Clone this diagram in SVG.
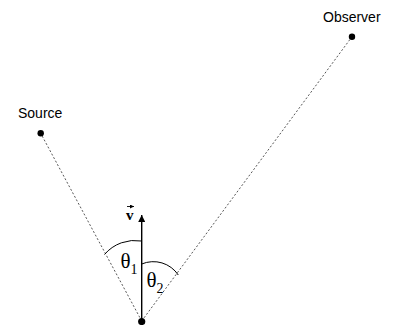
<svg xmlns="http://www.w3.org/2000/svg" width="396" height="325" viewBox="0 0 396 325">
<style>
.dot{fill:#000}
.dash{stroke:#444;stroke-width:0.9;stroke-dasharray:2 2;fill:none}
.arc{stroke:#000;stroke-width:1;fill:none}
.lbl{font-family:"Liberation Sans",Arial,sans-serif;font-size:14px;fill:#000}
.math{font-family:"Liberation Serif","Times New Roman",serif;fill:#000}
</style>
<defs>
<marker id="ah" viewBox="0 0 10 10" refX="10" refY="5" markerWidth="10" markerHeight="7" markerUnits="userSpaceOnUse" orient="auto">
<path d="M0,0 L10,5 L0,10 Z" fill="#000"/>
</marker>
<marker id="ahs" viewBox="0 0 10 10" refX="10" refY="5" markerWidth="4" markerHeight="4" markerUnits="userSpaceOnUse" orient="auto">
<path d="M0,0 L10,5 L0,10 Z" fill="#000"/>
</marker>
</defs>
<g id="connectors">
<line class="dash" x1="141.7" y1="321" x2="40.7" y2="133.3"/>
<line class="dash" x1="141.7" y1="321" x2="352" y2="36.7"/>
<line x1="141.7" y1="321" x2="141.7" y2="215" stroke="#000" stroke-width="1.4" marker-end="url(#ah)"/>
<path class="arc" d="M104.5,254.5 A40,40 0 0 1 141.7,241"/>
<path class="arc" d="M141.7,264 A30,30 0 0 1 178.3,275"/>
</g>
<g id="source">
<circle class="dot" cx="40.7" cy="133.3" r="3.2"/>
<text class="lbl" x="18" y="118">Source</text>
</g>
<g id="observer">
<circle class="dot" cx="352" cy="36.7" r="3.2"/>
<text class="lbl" x="323" y="22">Observer</text>
</g>
<g id="origin">
<circle class="dot" cx="141.7" cy="321.5" r="3.6"/>
</g>
<g id="velocity">
<text class="math" x="126" y="220" font-size="15" font-weight="bold">v</text>
<line x1="127" y1="206.5" x2="134" y2="206.5" stroke="#000" stroke-width="0.9" marker-end="url(#ahs)"/>
</g>
<g id="theta1">
<text class="math" x="120.5" y="268" font-size="21">θ<tspan font-size="14" dy="6">1</tspan></text>
</g>
<g id="theta2">
<text class="math" x="146.5" y="287" font-size="21">θ<tspan font-size="14" dy="6">2</tspan></text>
</g>
</svg>
